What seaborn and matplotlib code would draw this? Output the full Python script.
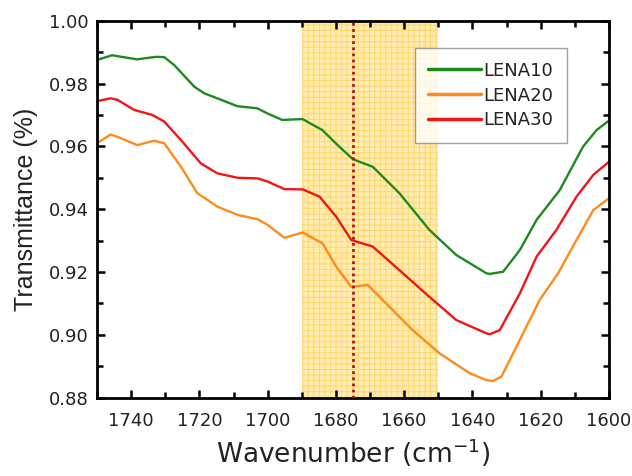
import numpy as np
import pandas as pd
import matplotlib
matplotlib.use("Agg")
import matplotlib.pyplot as plt
import seaborn as sns
from matplotlib.ticker import MultipleLocator

# ---- data ----
wn_lena10 = [1750, 1745.6, 1738.3, 1732.7, 1730.3, 1727.4, 1721.5, 1718.6, 1713.6, 1708.9,
             1703, 1700.1, 1695.7, 1689.8, 1684, 1679, 1675, 1669.2, 1661.4, 1652.6,
             1644.7, 1635.9, 1634.9, 1631, 1626.1, 1621.2, 1614.4, 1607.6, 1603.6, 1600]
t_lena10 = [0.9875, 0.989, 0.9877, 0.9885, 0.9884, 0.9859, 0.979, 0.9769, 0.9748, 0.9728,
            0.9721, 0.9705, 0.9684, 0.9687, 0.9652, 0.9599, 0.9559, 0.9535, 0.9451, 0.9334,
            0.9254, 0.9196, 0.9194, 0.9201, 0.927, 0.9366, 0.9461, 0.9599, 0.9652, 0.9682]

wn_lena20 = [1750, 1746, 1743, 1738.2, 1733.3, 1730.3, 1725.4, 1720.6, 1714.7, 1708.8,
             1702.9, 1700, 1695.1, 1689.7, 1683.9, 1679.9, 1675.5, 1670.7, 1665.3, 1657.5,
             1649.6, 1640.8, 1635.9, 1634, 1631.5, 1626.1, 1620.3, 1614.9, 1609.5, 1604.6, 1600]
t_lena20 = [0.961, 0.9638, 0.9626, 0.9604, 0.9618, 0.961, 0.9535, 0.9451, 0.9408, 0.9382,
            0.9368, 0.935, 0.9309, 0.9326, 0.9291, 0.9217, 0.9153, 0.9159, 0.910, 0.9015,
            0.8941, 0.8878, 0.8856, 0.8853, 0.8867, 0.8984, 0.9111, 0.9196, 0.9302, 0.9397, 0.9435]

wn_lena30 = [1750, 1746, 1744, 1739.1, 1733.8, 1730.3, 1725.4, 1719.6, 1714.7, 1708.8,
             1702.9, 1700, 1695.1, 1689.7, 1684.8, 1679.9, 1675.5, 1669.2, 1661.4, 1652.6,
             1644.7, 1635.9, 1634.9, 1632, 1626.1, 1621.2, 1615.4, 1609.5, 1604.6, 1600]
t_lena30 = [0.9744, 0.9753, 0.9748, 0.9716, 0.970, 0.9679, 0.962, 0.9546, 0.9514, 0.950,
            0.9498, 0.9488, 0.9464, 0.9463, 0.944, 0.9376, 0.9302, 0.9281, 0.9206, 0.9121,
            0.9047, 0.9005, 0.9002, 0.9015, 0.9132, 0.9249, 0.9334, 0.944, 0.9509, 0.9551]

series_names = ["LENA10", "LENA20", "LENA30"]
series_colors = ["#1E8A1E", "#FF8C1A", "#F21515"]
band_range = [1690, 1650]
marker_line = 1675
x_ticks = [1740, 1720, 1700, 1680, 1660, 1640, 1620, 1600]
y_ticks = [0.88, 0.90, 0.92, 0.94, 0.96, 0.98, 1.00]

frames = []
for name, wn, t in zip(series_names, [wn_lena10, wn_lena20, wn_lena30],
                       [t_lena10, t_lena20, t_lena30]):
    frames.append(pd.DataFrame({"wn": wn, "T": t, "sample": name}))
df = pd.concat(frames, ignore_index=True)

sns.set_style("ticks")
plt.rcParams["font.family"] = ["DejaVu Sans"]
plt.rcParams["hatch.linewidth"] = 0.7

fig = plt.figure(figsize=(6.32, 4.76), dpi=100)
ax = fig.add_axes([0.1535, 0.1645, 0.81, 0.792])

ax.axvspan(band_range[0], band_range[1], facecolor="#FFECB4", edgecolor="#FFD86C",
           hatch="+++", linewidth=0, zorder=0)
ax.axvline(marker_line, color="#B01515", linestyle=(0, (1, 1.2)), linewidth=2.0, zorder=3)

sns.lineplot(data=df, x="wn", y="T", hue="sample", hue_order=series_names,
             palette=series_colors, estimator=None, sort=False, linewidth=1.7, ax=ax, zorder=2)

ax.set_xlim(1750, 1600)
ax.set_ylim(0.88, 1.00)
ax.set_xticks(x_ticks)
ax.set_yticks(y_ticks)
ax.set_yticklabels([f"{v:.2f}" for v in y_ticks])
ax.xaxis.set_minor_locator(MultipleLocator(10))
ax.yaxis.set_minor_locator(MultipleLocator(0.01))
ax.tick_params(which="both", direction="in", top=True, right=True, width=1.8, color="black",
               labelsize=13, labelcolor="#222222")
ax.tick_params(which="major", length=6)
ax.tick_params(which="minor", length=4)
ax.tick_params(axis="x", pad=10)
ax.tick_params(axis="y", pad=6)
for s in ax.spines.values():
    s.set_linewidth(2.0)
    s.set_color("black")

ax.set_xlabel("Wavenumber (cm$^{-1}$)", fontsize=19, color="#222222", labelpad=5)
ax.set_ylabel("Transmittance (%)", fontsize=18, color="#222222", labelpad=8,
              family=["Liberation Sans", "DejaVu Sans"])

leg = ax.legend(loc="upper right", bbox_to_anchor=(0.918, 0.927), borderaxespad=0,
                fontsize=13, frameon=True, fancybox=False, handlelength=2.9,
                handletextpad=0.15, borderpad=0.75, labelspacing=0.38)
leg.get_frame().set_edgecolor("#888888")
leg.get_frame().set_linewidth(1.0)
for line in leg.get_lines():
    line.set_linewidth(2.5)
for txt in leg.get_texts():
    txt.set_color("#222222")

fig.savefig("out.png", dpi=100)
